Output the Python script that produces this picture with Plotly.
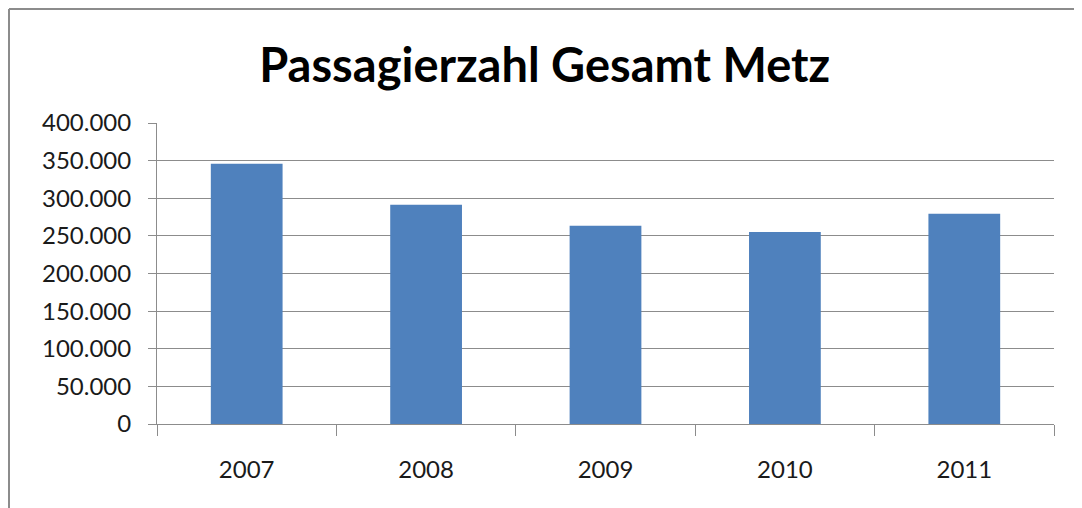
import plotly.graph_objects as go

years = ["2007", "2008", "2009", "2010", "2011"]
passengers = [345900, 291400, 263500, 255100, 279500]
y_ticks = [0, 50000, 100000, 150000, 200000, 250000, 300000, 350000, 400000]

FONT = "Lato, Open Sans, sans-serif"

fig = go.Figure(
    go.Bar(x=years, y=passengers, marker=dict(color="#4f81bd", line=dict(width=0)))
)

fig.update_layout(
    width=1082, height=508,
    margin=dict(l=149, r=36, t=115, b=92),
    paper_bgcolor="white", plot_bgcolor="white",
    separators=",.",
    bargap=0.6,
    showlegend=False,
    font=dict(family=FONT, color="#1a1a1a"),
    title=dict(text="<b>Passagierzahl Gesamt Metz</b>", x=0.496, xanchor="center",
               y=0.886, yanchor="middle",
               font=dict(family=FONT, size=47, color="#000")),
    shapes=[
        dict(type="line", xref="paper", yref="paper", x0=-0.165, x1=1.05,
             y0=1.379, y1=1.379, line=dict(color="#8c8c8c", width=2)),
        dict(type="line", xref="paper", yref="paper", x0=-0.165, x1=-0.165,
             y0=1.379, y1=-0.35, line=dict(color="#8c8c8c", width=2)),
    ],
)

fig.update_yaxes(
    range=[0, 400000], tickvals=y_ticks, tickformat=",d",
    showgrid=True, gridcolor="#8c8c8c", gridwidth=1,
    showline=True, linecolor="#8c8c8c", linewidth=1,
    ticks="outside", ticklen=8, tickcolor="#8c8c8c",
    ticklabelstandoff=12,
    tickfont=dict(size=24, family=FONT, color="#1a1a1a"),
    zeroline=False,
)
fig.update_xaxes(
    type="category",
    showline=True, linecolor="#8c8c8c", linewidth=1,
    ticks="outside", ticklen=11, tickcolor="#8c8c8c", tickson="boundaries",
    ticklabelstandoff=24,
    tickfont=dict(size=24, family=FONT, color="#1a1a1a"),
    showgrid=False,
)

fig.write_html("out.html")
